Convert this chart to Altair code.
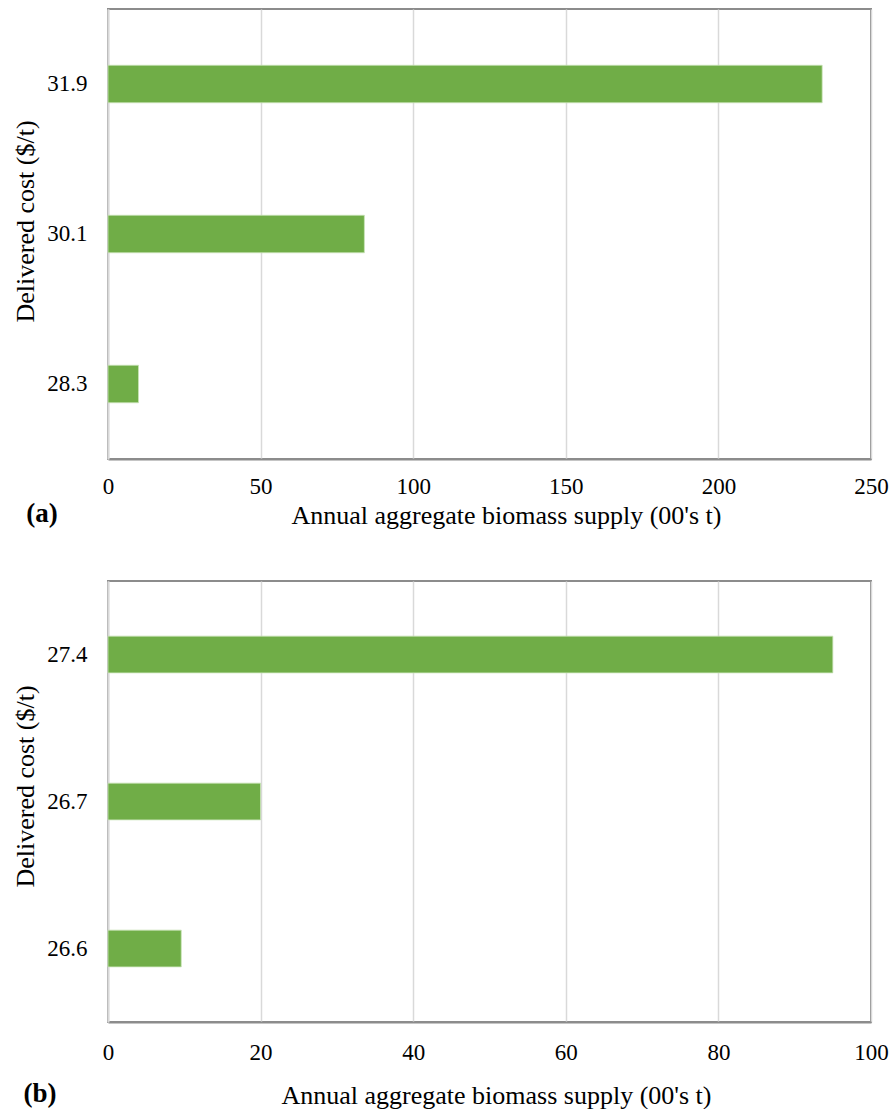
import altair as alt
import pandas as pd

# Panel (a): delivered cost classes and annual supply (hundreds of tonnes)
cost_a = ["31.9", "30.1", "28.3"]
supply_a = [234, 84, 10]

# Panel (b)
cost_b = ["27.4", "26.7", "26.6"]
supply_b = [95, 20, 9.6]

FONT = "Liberation Serif"
GREEN = "#70ad47"
GRID = "#d9d9d9"
FRAME = "#8c8c8c"
X_TITLE = "Annual aggregate biomass supply (00's t)"
Y_TITLE = "Delivered cost ($/t)"


def panel(costs, supply, x_max, tick_step, tag, width, height, tag_xy,
          label_pad, title_pad, title_x, y_title_y):
    df = pd.DataFrame({"cost": costs, "supply": supply})
    bars = alt.Chart(df).mark_bar(color=GREEN, stroke="#c9e3b8", strokeWidth=0.8).encode(
        x=alt.X(
            "supply:Q",
            scale=alt.Scale(domain=[0, x_max], nice=False, zero=True),
            axis=alt.Axis(
                title=X_TITLE,
                values=list(range(0, x_max + 1, tick_step)),
                grid=True,
                gridColor=GRID,
                gridWidth=1.5,
                domainColor=FRAME,
                domainWidth=2,
                ticks=False,
                labelFlush=False,
                labelPadding=label_pad,
                titlePadding=title_pad,
                titleX=title_x,
            ),
        ),
        y=alt.Y(
            "cost:N",
            sort=costs,
            scale=alt.Scale(paddingInner=0.75, paddingOuter=0.375),
            axis=alt.Axis(
                title=Y_TITLE,
                ticks=False,
                domainColor=GRID,
                domainWidth=2,
                labelPadding=21,
                titlePadding=8,
                titleY=y_title_y,
            ),
        ),
    )
    label = alt.Chart(pd.DataFrame({"tag": [tag]})).mark_text(
        font=FONT, fontSize=27, fontWeight="bold", align="center", baseline="middle"
    ).encode(
        text="tag:N",
        x=alt.value(tag_xy[0]),
        y=alt.value(tag_xy[1]),
    )
    return alt.layer(bars, label).properties(width=width, height=height)


top = panel(cost_a, supply_a, 250, 50, "(a)", 763, 450, (-66, 505), 16, 4, 398, 212)
bottom = panel(cost_b, supply_b, 100, 20, "(b)", 763, 441, (-68, 513), 19, 18, 388, 205)

chart = (
    alt.vconcat(top, bottom, spacing=51)
    .properties(
        padding={"left": 11, "top": 8, "right": 0, "bottom": 0},
        background="white",
    )
    .configure_view(stroke=FRAME, strokeWidth=2)
    .configure_axis(
        labelFont=FONT,
        titleFont=FONT,
        labelFontSize=23,
        titleFontSize=26,
        labelColor="#000000",
        titleColor="#000000",
        titleFontWeight="normal",
    )
)

chart.save("out.html", embed_options={"renderer": "svg", "actions": False})
